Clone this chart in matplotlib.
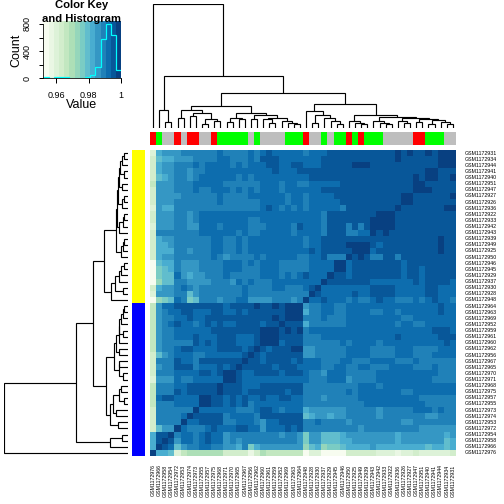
import matplotlib
matplotlib.use("Agg")
import matplotlib.pyplot as plt
import numpy as np
from matplotlib.colors import ListedColormap, LinearSegmentedColormap

plt.rcParams['font.family'] = ['Liberation Sans', 'DejaVu Sans']

row_labels = ["GSM1172931","GSM1172934","GSM1172944","GSM1172941","GSM1172940","GSM1172951","GSM1172947",
              "GSM1172927","GSM1172926","GSM1172936","GSM1172922","GSM1172933","GSM1172942","GSM1172943",
              "GSM1172939","GSM1172949","GSM1172925","GSM1172950","GSM1172946","GSM1172945","GSM1172929",
              "GSM1172937","GSM1172930","GSM1172928","GSM1172948","GSM1172964","GSM1172963","GSM1172969",
              "GSM1172952","GSM1172959","GSM1172961","GSM1172960","GSM1172962","GSM1172956","GSM1172967",
              "GSM1172965","GSM1172970","GSM1172971","GSM1172968","GSM1172975","GSM1172957","GSM1172955",
              "GSM1172973","GSM1172974","GSM1172953","GSM1172972","GSM1172954","GSM1172958","GSM1172966",
              "GSM1172976"]
col_labels = ["GSM1172976","GSM1172966","GSM1172958","GSM1172954","GSM1172972","GSM1172953","GSM1172974",
              "GSM1172973","GSM1172955","GSM1172957","GSM1172975","GSM1172968","GSM1172971","GSM1172970",
              "GSM1172965","GSM1172967","GSM1172956","GSM1172962","GSM1172960","GSM1172961","GSM1172959",
              "GSM1172952","GSM1172969","GSM1172963","GSM1172964","GSM1172948","GSM1172928","GSM1172930",
              "GSM1172937","GSM1172929","GSM1172945","GSM1172946","GSM1172950","GSM1172925","GSM1172949",
              "GSM1172939","GSM1172943","GSM1172942","GSM1172933","GSM1172922","GSM1172936","GSM1172926",
              "GSM1172927","GSM1172947","GSM1172951","GSM1172940","GSM1172941","GSM1172944","GSM1172934",
              "GSM1172931"]

# heat levels, one hex-like digit per cell (bin of the colour key)
levels_top = [
 "29AAABBBBBBCBBBBCBCDCCCCC"+"BCCCDDDDDDDDDDDEDEDDEDEEE",
 "3899AAABBBBCCBBBCBDDDCCCC"+"CCCDDDDDDDDDDDDEDDDDDDEEE",
 "39AABBBCBCCCCBCBCCCDDCCDD"+"CCCDDDDDEEEDDDDDDDDDDDEEE",
 "39AABBABBCCCCCCCCCCCDCCCD"+"DDDDDDDDDDDDDDDDDDDDEEDDD",
 "389ABBABCCCCCCBCBCCCCCCCC"+"CDDDDDDDDDDDDDDDDDEDEEDDE",
 "4AAABBBCCCCCBBBBBBCCCBCCB"+"BCCCCCDDDDDDDDDDDDEEDDDDD",
 "3AAABBBCBBCCCBCBCBCCCBCCC"+"CCCDDDDDDDDDDDDDDDEEEDDDD",
 "3AAAABBBBBBCBBBBCCCCCCBCC"+"BCCCCDDDDDDDDDDDEEDDDDDDE",
 "3AAABBBBBBBCBBBBBBCCCCBCC"+"BCCCCCDDDDDDDDDDEEDDDDDDD",
 "2A99BBBBBBBBBBBBBBCDCBCBC"+"BCCCCCBDDDDDDDDEDDDDDDDEE",
 "3AAABBABCCCCCCCCCCCCCCCCC"+"CCCBDDDDDDDDEEEDDDDDDDDDD",
 "3AAABBABCCCCCCCCBBCCCCCCC"+"CCCBDDDDDDDEEEEDDDDDDDDDD",
 "2AAABBAACCCBCCCCBBBCCCCBD"+"CCCBDDDBDBDEEEEDDDDDDDDDD",
 "3BBBBBBBCCCCCCBCBBCCCCCBC"+"CCCBDDDBBCCEDEDDDDDDDDDDD",
 "39AABBBBBBCCBBCBCCCCCCCCC"+"BCCDDDDDDDDDDDDDDDDDDDEDD",
 "399ABBBBBBCCBBCBCCCCCCCCC"+"BCCDDDDEEEEDCDDDDDDDDDEDD",
 "3999BBABBBCCBBCBCCCCCCCCC"+"CDCDDDDDEEECDDDDDDDDDDEDD",
 "39AABBBBBBCBABBBBCBCCCCCB"+"BCCDBBBEDEDBBDDBDDDDDDDDD",
 "0899BAAABBBBCCCBCBCCCBBBB"+"BCCCCEECDDDDDDDDCDDDDDDDD",
 "0789BAAABBBBCCCBBBCCCBBBB"+"BCCCCEECDDDDDDDDCDDCDDDDD",
 "0788CA9AABBBCBBBBBCCCBCBC"+"DCCCEDDCDDDDDDDDCDDCDDDDD",
 "0688BBAAAABBBACBCBBBCCCCC"+"CCCEDDDDDDDCCCCCCCDCDDDDC",
 "39AABCBABBBBBBBCBBBBCCBBB"+"CDECCCCCCCCDDDDCCCCCDDCCC",
 "2AAABB8ABBBBBBBCBBBBBBBBB"+"BEDCCCCCDCCDDDDCCCCCDDCCC",
 "0678CB78BBBABBCCAAAABBBAB"+"ECCDCCCBCBBCDCCBBBCBCDCCB",
]
levels_bot = [
 "4ACCDDDDDDDDCDDDDEDDEDEEE"+"ABBCCBBCCCCCCCCCCCCCCCDCC",
 "4ABCCDDCCCDDCCDCDDDDDDEEE"+"9BBCCBBCCCCBBCCBCCCCCCDCC",
 "4ABBCCDCCDDDDDDDDDDDEDEEE"+"BBBCBBBCCCCCCCCCBBCCCCCCC",
 "4ABCDCCBCDCDCCDDDDCDDEDDD"+"9BBBBBBCCCCCCCCBCCBBCCCCC",
 "4ABBCCCCCCDDDDDDDDEEEDEDE"+"BCCCCCCCCCCCCCCCCCCCCDDDC",
 "4ABBCCCDCCCDDDCCCDEEEDDDD"+"BBBCCCCCCCCCCCCDCCCCCCDDD",
 "4ABBBBBDCDCDDDCCCDEEECDDD"+"BBBBBBCBCCCCBCCCCCCCCCCDC",
 "4ABBCDDCCCCDDDDCDEDCDDDEE"+"AABBBBBCCCCBBBBCCCBBBBCCC",
 "38ABCCCBBCCCCCCDEDCDDDDDD"+"AABBBBBCCCCBBBBCCCBBBCCCC",
 "3BBBDCCBDDDDDDDEDDCDDDDCD"+"CCCBBBCCBBBCCCCBBBCBBBBBB",
 "3ABBDDDBCCCDCDEDDDDDCDDDC"+"CCCBBCCBBCCBBBCCCCBBBCBBB",
 "3BBBCCCCDDCDEEDCCDDDDCDDD"+"CBBACCCBBBBBCCCCCCCCCCBBB",
 "2AAACBBCCCCCEEDCCCCCCCCCC"+"CBBBCCCABBBBCCCCCCCCCBBBB",
 "4BBBCCDDDDDEDDDCCCDDDDDDD"+"BBBBBBBBBCCCBCCCCCCCCCCCC",
 "4BBBDCDDDDDEDDDCDDDDDDCDD"+"BBBBBBBCBCCCCCCCBBCCCCCCC",
 "4CDDCCCCEEDDCDCDCCDCCDDCC"+"BBBABBBBBCCCCCCCCCCBBBBBB",
 "4BBBCCCCEEDDCDCDBCCCCCCCC"+"BBBBBBBBBBCCCCCCCCCCBBBBB",
 "3BBBBBBECCCCCCBBBCDDCBCCC"+"9AAAAAABBBBBABBBBBCCCBCBB",
 "3BBBBCEDDDDDBCCCCBDDDDDDD"+"89AA9AABBBBBABBBBBBBAABBB",
 "3BBBBECCDDDDBBCCCBACCDDDD"+"BBCBBBBABBBBBBBBAABBBBBBB",
 "38AAECBBBCDCCCDDCCACCCDCD"+"BBBBBBBBBABBBBBBBBBAAAAAA",
 "9DDEBCCBCDCCABBBBBBBBABBA"+"7AA8889AAAAAAAA9AAAAAAA9A",
 "9DEDACCBCDCCABABBBBBBBBBA"+"7AA88899AAAAAAA9AAAAAAA89",
 "9EDC8ABBCCBBAA9B79AAAAAAA"+"6896778999" + "9A99999999899" + "89",
 "E998245555553333135444444"+"0220000333332221223222223",
]
levels = levels_top + levels_bot

# top colour bar classes
col_groups = "RGAARARRAARGGGGGAGAAAAGGGRAAGAGGRGRGGGAAAAARRGGGAA"
row_groups = "Y" * 25 + "B" * 25

# dendrograms: (height, left, right); leaves are consumed in order (None)
L = None
col_tree = (370, L, (154, (52, L, (16, L, L)), (103,
    (64, (52, (28, L, L), (43, (34, L, L), (25, (10, L, L), (19, L, L)))),
         (43, (28, (16, L, L), (25, L, L)),
              (37, (25, L, L), (28, (25, L, (13, L, L)),
                   (19, L, (13, L, (10, L, L))))))),
    (70, (49, L, (37, (13, L, L), (28, L, (19, L, (10, L, L))))),
         (37, (19, L, (13, L, (10, L, L))),
              (31, (19, L, (13, L, (10, L, L))),
                   (29, (19, L, (13, L, L)),
                        (27, (16, L, L),
                             (22, (10, L, L), (16, L, (10, L, L)))))))))))
row_tree = (371, (155, (104,
    (71, (37, (32, (30, (26, (24, (17, (11, L, L), L), (11, L, L)), (17, L, L)),
                        (17, (11, L, L), L)),
                   (26, (15, (11, L, L), L), L)),
              (20, (14, (11, L, L), L), L)),
         (50, (38, (28, (20, (12, L, L), L), L), (14, L, L)), L)),
    (65, (43, (37, (28, (27, (22, (14, (11, L, L), L), L), (14, L, L)), L), (26, L, L)),
              (28, (26, L, L), (16, L, L))),
         (53, (44, (26, (20, L, L), (11, L, L)), (35, L, L)), (29, L, L)))),
    (53, (17, L, L), L)), L)

hist_counts = [15, 0, 25, 25, 12, 0, 8, 0, 25, 55, 170, 575, 795, 640, 115]
key_edges = np.linspace(0.952, 1.0, 16)

anchors = ['#F7FCF0','#E0F3DB','#CCEBC5','#A8DDB5','#7BCCC4','#4EB3D3','#2B8CBE','#0868AC','#084081']
base = LinearSegmentedColormap.from_list('gnbu', anchors)
cmap = ListedColormap([base(i / 14) for i in range(15)])
group_colors = {'R': '#FF0000', 'G': '#00FF00', 'A': '#BEBEBE', 'Y': '#FFFF00', 'B': '#0000FF'}

W = H = 504
def axpx(x0, y0, x1, y1):
    return fig.add_axes([x0 / W, 1 - y1 / H, (x1 - x0) / W, (y1 - y0) / H])

fig = plt.figure(figsize=(7, 7), dpi=72)

for r in levels:
    if len(r) != 50:
        raise ValueError(f"row length {len(r)}: {r}")
M = np.array([[int(c, 16) for c in r] for r in levels], dtype=float)
ax = axpx(150, 150, 456, 456)
ax.pcolormesh(np.arange(51), np.arange(51), M, cmap=cmap, vmin=-.5, vmax=14.5, antialiased=False)
ax.set_xlim(0, 50); ax.set_ylim(50, 0)
ax.set_xticks(np.arange(50) + .5); ax.set_yticks(np.arange(50) + .5)
ax.set_xticklabels(col_labels, rotation=90, fontsize=5.2, ha='center', va='top')
ax.set_yticklabels(row_labels, fontsize=5.2, ha='left', va='center')
ax.yaxis.tick_right()
ax.tick_params(length=0, pad=8.5)
for s in ax.spines.values():
    s.set_visible(False)

# colour bars
ax = axpx(150, 132, 456, 145)
for i, g in enumerate(col_groups):
    ax.bar(i + .5, 1, width=1, color=group_colors[g], linewidth=0)
ax.set_xlim(0, 50); ax.set_ylim(0, 1); ax.axis('off')
ax = axpx(132, 150, 145, 456)
for i, g in enumerate(row_groups):
    ax.barh(i + .5, 1, height=1, color=group_colors[g], linewidth=0)
ax.set_ylim(50, 0); ax.set_xlim(0, 1); ax.axis('off')

def draw(node, counter, horiz, ax):
    if node is None:
        p = counter[0] + .5
        counter[0] += 1
        return p, 0
    h, a, b = node
    pa, ha = draw(a, counter, horiz, ax)
    pb, hb = draw(b, counter, horiz, ax)
    xs, ys = [pa, pa, pb, pb], [ha, h, h, hb]
    if horiz:
        xs, ys = ys, xs
    ax.plot(xs, ys, color='k', lw=1.15, solid_joinstyle='miter', solid_capstyle='butt', snap=True)
    return (pa + pb) / 2, h

ax = axpx(150, 4.3, 456, 127.7)
draw(col_tree, [0], False, ax)
ax.set_xlim(0, 50); ax.set_ylim(0, 370); ax.axis('off')
ax = axpx(4.3, 150, 128, 456)
draw(row_tree, [0], True, ax)
ax.set_ylim(50, 0); ax.set_xlim(371, 0); ax.axis('off')

# colour key
ax = axpx(43.4, 21, 121.3, 78.3)
for k in range(15):
    ax.axvspan(key_edges[k], key_edges[k + 1], color=cmap(k), lw=0)
ax.stairs(hist_counts, key_edges, color='#00FFFF', lw=1.2, baseline=None)
ax.set_xlim(key_edges[0], key_edges[-1]); ax.set_ylim(0, 844)
for s in ['top', 'right']:
    ax.spines[s].set_visible(False)
ax.spines['left'].set_bounds(0, 800)
ax.set_xticks([0.96, 0.98, 1.0]); ax.set_xticklabels(['0.96', '0.98', '1'], fontsize=9)
ax.set_yticks([0, 200, 400, 600, 800])
ax.set_yticklabels(['0', '', '400', '', '800'], fontsize=9, rotation=90, va='center')
ax.tick_params(length=4.5, width=1)
ax.tick_params(axis='x', pad=8)
ax.tick_params(axis='y', pad=7)
fig.text(82 / W, 1 - 105 / H, 'Value', fontsize=12.5, ha='center', va='center')
fig.text(16 / W, 1 - 50 / H, 'Count', fontsize=12.5, ha='center', va='center', rotation=90)
fig.text(82 / W, 1 - 5.5 / H, 'Color Key', fontsize=11.2, fontweight='bold', ha='center', va='center')
fig.text(82 / W, 1 - 18.5 / H, 'and Histogram', fontsize=11.2, fontweight='bold', ha='center', va='center')

fig.savefig('out.png', dpi=72)
